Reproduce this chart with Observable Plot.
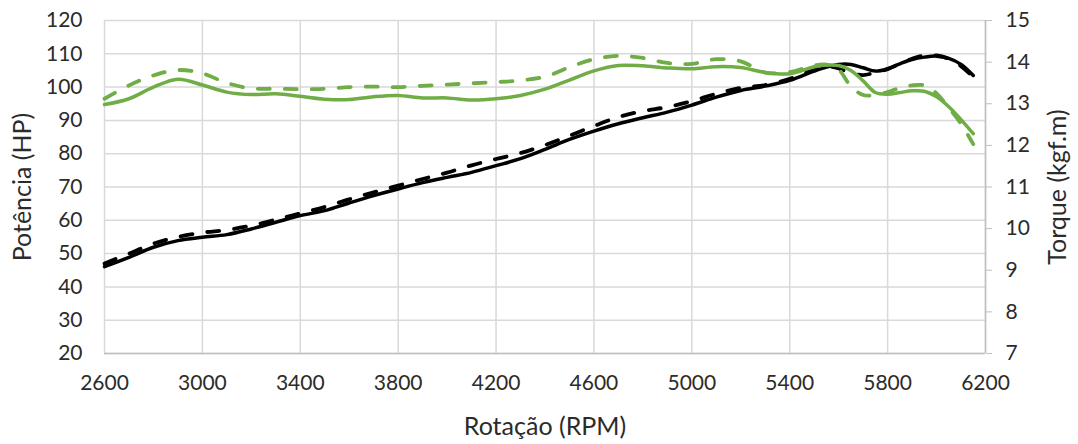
<!DOCTYPE html>
<html>
<head>
<meta charset="utf-8">
<script src="https://cdn.jsdelivr.net/npm/d3@7"></script>
<script src="https://cdn.jsdelivr.net/npm/@observablehq/plot@0.6"></script>
<style>
  html, body { margin: 0; padding: 0; background: #fff; }
  #chart svg { display: block; }
</style>
</head>
<body>
<div id="chart"></div>
<script>
// RPM sample points
const rpm = [2600,2700,2800,2900,3000,3100,3200,3300,3400,3500,3600,3700,3800,3900,4000,4100,4200,4300,4400,4500,4600,4700,4800,4900,5000,5100,5200,5300,5400,5500,5550,5600,5650,5700,5750,5800,5850,5900,5950,6000,6050,6100,6150];

// Power (HP) – solid and dashed
const powerSolid = [46.1,48.9,51.9,53.9,54.9,55.7,57.4,59.4,61.4,62.9,65.2,67.4,69.4,71.3,72.9,74.4,76.4,78.5,81.3,84.3,86.8,89.0,90.8,92.5,94.6,97.0,99.0,100.3,102.0,104.8,106.0,106.8,106.8,105.8,104.8,105.5,107.0,108.3,109.0,109.3,108.6,106.8,103.5];
const powerDashed = [47.0,50.0,53.0,55.0,56.3,57.1,58.4,60.2,62.1,64.0,66.3,68.4,70.4,72.4,74.3,76.5,78.4,80.2,82.6,85.4,88.3,91.0,92.8,94.0,95.8,98.0,99.8,100.6,102.5,105.3,106.2,105.6,104.2,103.6,104.4,105.4,107.0,108.5,109.5,109.5,108.5,106.3,103.0];

// Torque (kgf.m) – solid and dashed
const torqueSolid = [12.98,13.12,13.40,13.59,13.45,13.28,13.22,13.24,13.18,13.11,13.10,13.17,13.20,13.14,13.14,13.09,13.12,13.20,13.35,13.57,13.79,13.92,13.91,13.86,13.84,13.89,13.87,13.75,13.72,13.89,13.93,13.92,13.80,13.55,13.27,13.23,13.27,13.31,13.30,13.17,12.93,12.62,12.28];
const torqueDashed = [13.12,13.44,13.68,13.81,13.73,13.50,13.37,13.36,13.35,13.36,13.40,13.41,13.40,13.43,13.46,13.49,13.52,13.56,13.65,13.88,14.07,14.15,14.10,13.98,13.96,14.07,14.02,13.75,13.76,13.92,13.94,13.82,13.42,13.21,13.21,13.28,13.38,13.44,13.44,13.25,12.90,12.52,12.03];

// Tick labels
const xTicks = [2600,3000,3400,3800,4200,4600,5000,5400,5800,6200];
const powerTicks = [20,30,40,50,60,70,80,90,100,110,120];
const torqueTicks = [7,8,9,10,11,12,13,14,15];

// Map torque onto the power axis (7→20, 15→120)
const tMin = 7, tMax = 15, pMin = 20, pMax = 120;
const t2p = t => pMin + (t - tMin) * (pMax - pMin) / (tMax - tMin);
const p2t = p => tMin + (p - pMin) * (tMax - tMin) / (pMax - pMin);

const rows = (ys, conv) => rpm.map((r, i) => ({rpm: r, v: conv ? conv(ys[i]) : ys[i]}));

const green = "#70ad47";
const black = "#000000";
const grid = "#d9d9d9";
const textColor = "#2b2b2b";

const chart = Plot.plot({
  width: 1078,
  height: 444,
  marginLeft: 104,
  marginRight: 93,
  marginTop: 20,
  marginBottom: 91,
  style: {fontFamily: "Lato, 'Open Sans', sans-serif", fontSize: "21px", color: textColor, background: "#fff"},
  x: {domain: [2600, 6200]},
  y: {domain: [20, 120]},
  marks: [
    Plot.gridY(powerTicks, {stroke: grid, strokeOpacity: 1, strokeWidth: 1.5}),
    Plot.gridX(xTicks, {stroke: grid, strokeOpacity: 1, strokeWidth: 1.5}),
    Plot.ruleY([20], {stroke: "#bfbfbf", strokeWidth: 1.5}),
    Plot.ruleX([6200], {stroke: "#bfbfbf", strokeWidth: 1.5}),
    Plot.axisX(xTicks, {tickSize: 0, tickPadding: 22, tickFormat: d => String(d), label: "Rotação (RPM)", labelAnchor: "center", labelArrow: "none", labelOffset: 81, fontSize: 21}),
    Plot.axisY(powerTicks, {anchor: "left", tickSize: 0, tickPadding: 22, label: "Potência (HP)", labelAnchor: "center", labelArrow: "none", labelOffset: 91, fontSize: 21}),
    Plot.axisY(torqueTicks.map(t2p), {anchor: "right", tickSize: 6, tickPadding: 14, stroke: "#bfbfbf", tickFormat: p => String(Math.round(p2t(p))), label: "Torque (kgf.m)", labelAnchor: "center", labelArrow: "none", labelOffset: 80, fontSize: 21}),
    Plot.line(rows(powerSolid), {x: "rpm", y: "v", stroke: black, strokeWidth: 3.5, curve: "catmull-rom"}),
    Plot.line(rows(powerDashed), {x: "rpm", y: "v", stroke: black, strokeWidth: 3.8, curve: "catmull-rom", strokeDasharray: "12,15", strokeLinecap: "round"}),
    Plot.line(rows(torqueSolid, t2p), {x: "rpm", y: "v", stroke: green, strokeWidth: 3.5, curve: "catmull-rom"}),
    Plot.line(rows(torqueDashed, t2p), {x: "rpm", y: "v", stroke: green, strokeWidth: 3.8, curve: "catmull-rom", strokeDasharray: "12,15", strokeLinecap: "round"})
  ]
});
// Axis titles are larger than tick labels in the reference
chart.querySelectorAll("text").forEach(t => {
  const s = t.textContent;
  if (s === "Rotação (RPM)" || s === "Potência (HP)" || s === "Torque (kgf.m)") t.setAttribute("font-size", "25");
});
document.getElementById("chart").appendChild(chart);
</script>
</body>
</html>
